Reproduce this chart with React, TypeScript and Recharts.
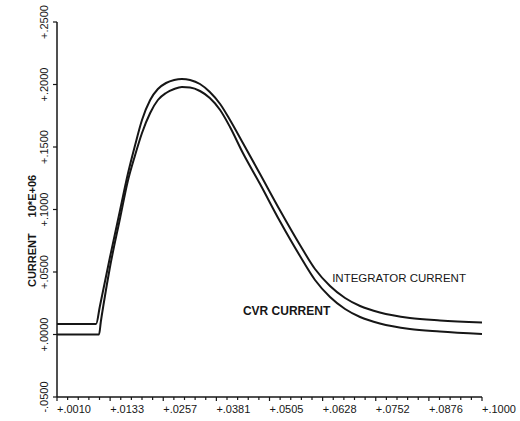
import React from "react";
import { LineChart, Line, XAxis, YAxis, ReferenceDot, Label } from "recharts";

// time (s) vs current (x 10^6)
const integratorTime = [0.001, 0.0101, 0.011, 0.0133, 0.0157, 0.0175, 0.0192, 0.0208, 0.0227, 0.0245, 0.0264, 0.0283, 0.0301, 0.032, 0.0343, 0.0366, 0.039, 0.0413, 0.0443, 0.0483, 0.0529, 0.0576, 0.0611, 0.0646, 0.0681, 0.0716, 0.0762, 0.0832, 0.0902, 0.1];
const integratorCurrent = [0.0084, 0.0084, 0.0228, 0.0612, 0.0996, 0.1284, 0.1516, 0.1716, 0.1876, 0.1964, 0.2012, 0.2036, 0.2044, 0.2036, 0.2004, 0.194, 0.1844, 0.1716, 0.1532, 0.1284, 0.0996, 0.0716, 0.0524, 0.0388, 0.0292, 0.0228, 0.0176, 0.0132, 0.0112, 0.0096];

const cvrTime = [0.001, 0.0108, 0.0112, 0.0119, 0.0133, 0.0157, 0.0175, 0.0192, 0.0208, 0.0227, 0.0245, 0.0264, 0.0283, 0.0301, 0.032, 0.0343, 0.0366, 0.039, 0.0413, 0.0443, 0.0483, 0.0529, 0.0576, 0.0611, 0.0646, 0.0681, 0.0716, 0.0762, 0.0832, 0.0902, 0.1];
const cvrCurrent = [0, 0, 0.01, 0.0252, 0.0532, 0.0932, 0.1228, 0.1436, 0.1612, 0.1772, 0.1876, 0.1932, 0.1964, 0.198, 0.1976, 0.1948, 0.1892, 0.1796, 0.166, 0.1452, 0.1204, 0.0908, 0.0628, 0.0436, 0.03, 0.0204, 0.014, 0.0088, 0.0044, 0.0024, 0.0004];

const xTicks = [0.001, 0.013375, 0.02575, 0.038125, 0.0505, 0.062875, 0.07525, 0.087625, 0.1];
const xTickLabels = ["+.0010", "+.0133", "+.0257", "+.0381", "+.0505", "+.0628", "+.0752", "+.0876", "+.1000"];

const yTicks = [-0.05, 0, 0.05, 0.1, 0.15, 0.2, 0.25];
const yTickLabels = ["-.0500", "+.0000", "+.0500", "+.1000", "+.1500", "+.2000", "+.2500"];

const integratorData = integratorTime.map((t, i) => ({ t, v: integratorCurrent[i] }));
const cvrData = cvrTime.map((t, i) => ({ t, v: cvrCurrent[i] }));

// 4 minor ticks between each labelled one
const allXTicks = xTicks.flatMap((t, i) =>
  i < xTicks.length - 1 ? [0, 1, 2, 3, 4].map((k) => t + ((xTicks[i + 1] - t) * k) / 5) : [t]
);

const FONT = "'Liberation Sans', Arial, Helvetica, sans-serif";
const INK = "#161616";

function XTick(props: any) {
  const { x, y, payload } = props;
  const idx = xTicks.findIndex((t) => Math.abs(t - payload.value) < 1e-9);
  const major = idx >= 0;
  return (
    <g>
      <line x1={x} y1={y} x2={x} y2={y + (major ? 4 : 3)} stroke={INK} strokeWidth={1.2} />
      {major && (
        <text x={x} y={y + 16} textAnchor="start" fontSize={11} fontFamily={FONT} fill={INK}>
          {xTickLabels[idx]}
        </text>
      )}
    </g>
  );
}

function YTick(props: any) {
  const { x, y, payload } = props;
  const idx = yTicks.findIndex((t) => Math.abs(t - payload.value) < 1e-9);
  return (
    <g>
      <line x1={x} y1={y} x2={x - 4} y2={y} stroke={INK} strokeWidth={1.2} />
      <text
        x={x - 9}
        y={y}
        transform={`rotate(-90 ${x - 9} ${y})`}
        textAnchor="middle"
        fontSize={11}
        fontFamily={FONT}
        fill={INK}
      >
        {yTickLabels[idx]}
      </text>
    </g>
  );
}

function YTitle(props: any) {
  const { viewBox } = props;
  const cx = viewBox.x + 9;
  const cy = viewBox.y + viewBox.height * 0.555;
  return (
    <g fontFamily={FONT} fontSize={11} fontWeight="bold" fill={INK}>
      <text x={cx} y={cy + 30} transform={`rotate(-90 ${cx} ${cy + 30})`} textAnchor="middle">
        CURRENT
      </text>
      <text x={cx} y={cy - 34} transform={`rotate(-90 ${cx} ${cy - 34})`} textAnchor="middle">
        10*E+06
      </text>
    </g>
  );
}

const curveLabel = (text: string, bold: boolean, size: number) => (props: any) => {
  const { viewBox } = props;
  return (
    <text x={viewBox.x} y={viewBox.y} fontSize={size} fontFamily={FONT} fontWeight={bold ? "bold" : "normal"} fill={INK}>
      {text}
    </text>
  );
};

export default function App() {
  return (
    <div style={{ position: "absolute", left: 0, top: 0, width: 520, height: 421, background: "#fff" }}>
      <LineChart width={520} height={421} margin={{ top: 22, right: 38, bottom: 4, left: 27 }}>
        <XAxis
          dataKey="t"
          type="number"
          domain={[0.001, 0.1]}
          ticks={allXTicks}
          interval={0}
          tick={<XTick />}
          tickLine={false}
          tickSize={0}
          tickMargin={0}
          height={20}
          axisLine={{ stroke: INK, strokeWidth: 1.5 }}
          allowDataOverflow
        />
        <YAxis
          type="number"
          domain={[-0.05, 0.25]}
          ticks={yTicks}
          interval={0}
          tick={<YTick />}
          tickLine={false}
          tickSize={0}
          tickMargin={0}
          width={30}
          axisLine={{ stroke: INK, strokeWidth: 1.5 }}
          allowDataOverflow
        >
          <Label content={<YTitle />} />
        </YAxis>
        <Line
          data={integratorData}
          dataKey="v"
          type="monotone"
          stroke={INK}
          strokeWidth={2}
          dot={false}
          isAnimationActive={false}
        />
        <Line
          data={cvrData}
          dataKey="v"
          type="monotone"
          stroke={INK}
          strokeWidth={2}
          dot={false}
          isAnimationActive={false}
        />
        <ReferenceDot x={0.0651} y={0.042} r={0} stroke="none" fill="none">
          <Label content={curveLabel("INTEGRATOR CURRENT", false, 11.5)} />
        </ReferenceDot>
        <ReferenceDot x={0.0443} y={0.0156} r={0} stroke="none" fill="none">
          <Label content={curveLabel("CVR CURRENT", true, 12)} />
        </ReferenceDot>
      </LineChart>
    </div>
  );
}
